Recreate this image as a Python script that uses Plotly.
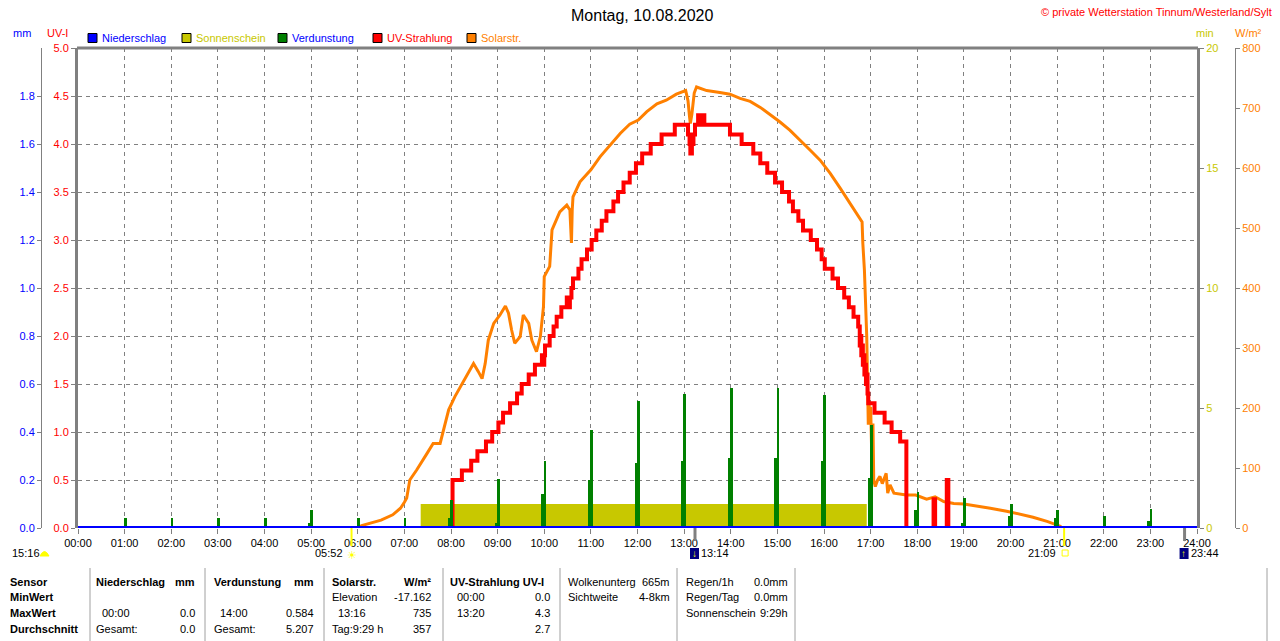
import plotly.graph_objects as go

W, H = 1280, 641


def px(x):
    return x / W


def py(y):
    return 1 - y / H


def hm(s):
    h, m = s.split(":")
    return int(h) + int(m) / 60.0


FONT = "Liberation Sans, Arial, sans-serif"
GRAY = "#808080"
RED = "#ff0000"
ORANGE = "#ff8000"
GREEN = "#008000"
BLUE = "#0000ff"
OLIVE = "#c8c800"

# ---------------- data ----------------
hours = list(range(25))
hour_labels = [f"{h:02d}:00" for h in hours]

uv_ticks = [0.0, 0.5, 1.0, 1.5, 2.0, 2.5, 3.0, 3.5, 4.0, 4.5, 5.0]
mm_ticks = [0.0, 0.2, 0.4, 0.6, 0.8, 1.0, 1.2, 1.4, 1.6, 1.8]
min_ticks = [0, 5, 10, 15, 20]
wm2_ticks = [0, 100, 200, 300, 400, 500, 600, 700, 800]

solar_times = ["00:00", "06:00", "06:05", "06:20", "06:30", "06:45", "06:55", "07:00", "07:03", "07:07",
               "07:16", "07:29", "07:37", "07:46", "07:52", "07:57", "08:05", "08:16", "08:22", "08:29",
               "08:35", "08:40", "08:44", "08:48", "08:55", "09:03", "09:10", "09:14", "09:18", "09:22",
               "09:29", "09:33", "09:40", "09:44", "09:50", "09:55", "09:59", "10:00", "10:07", "10:10",
               "10:20", "10:29", "10:33", "10:35", "10:36", "10:37", "10:46", "11:00", "11:12", "11:25",
               "11:38", "11:50", "12:01", "12:12", "12:25", "12:37", "12:50", "13:02", "13:05", "13:07",
               "13:08", "13:10", "13:13", "13:16", "13:29", "13:46", "13:59", "14:12", "14:25", "14:38",
               "14:50", "15:03", "15:16", "15:29", "15:42", "15:55", "16:08", "16:21", "16:34", "16:45",
               "16:49", "16:50", "16:52", "16:55", "16:56", "16:57", "16:58", "16:59", "17:00", "17:02",
               "17:03", "17:04", "17:06", "17:09", "17:12", "17:15", "17:20", "17:22", "17:25", "17:30",
               "17:46", "17:58", "18:12", "18:23", "18:34", "18:47", "19:00", "19:17", "19:34", "19:55",
               "20:12", "20:29", "20:47", "21:04", "21:06", "24:00"]
solar_values = [0, 0, 4, 9, 13, 22, 33, 43, 50, 80,
                97, 124, 141, 141, 169, 197, 219, 244, 258, 274,
                261, 249, 274, 313, 341, 355, 370, 358, 330, 308,
                319, 355, 341, 313, 294, 319, 369, 419, 436, 497,
                527, 538, 530, 475, 530, 552, 577, 597, 619, 638,
                658, 673, 680, 694, 707, 713, 723, 729, 712, 685,
                674, 690, 725, 735, 729, 726, 723, 716, 711, 701,
                690, 677, 663, 647, 630, 613, 591, 566, 541, 519,
                510, 474, 430, 319, 213, 172, 208, 174, 202, 91,
                174, 80, 69, 80, 86, 74, 91, 58, 72, 58,
                55, 55, 48, 52, 44, 41, 40, 37, 33, 28,
                23, 18, 11, 3, 0, 0]

uv_times = ["00:00", "08:02", "08:14", "08:26", "08:34", "08:45", "08:53", "09:01", "09:07", "09:16",
            "09:25", "09:31", "09:40", "09:48", "09:57", "09:59", "10:00", "10:01", "10:07", "10:12",
            "10:16", "10:22", "10:29", "10:32", "10:33", "10:35", "10:37", "10:44", "10:48", "10:55",
            "11:01", "11:07", "11:14", "11:20", "11:29", "11:35", "11:42", "11:50", "11:58", "12:06",
            "12:17", "12:31", "12:48", "13:05", "13:07", "13:08", "13:10", "13:12", "13:14", "13:18",
            "13:20", "13:22", "13:23", "13:25", "13:26", "13:29", "13:59", "14:14", "14:29", "14:38",
            "14:47", "14:57", "15:06", "15:15", "15:20", "15:27", "15:33", "15:43", "15:51", "15:57",
            "16:01", "16:11", "16:18", "16:26", "16:32", "16:38", "16:44", "16:46", "16:47", "16:48",
            "16:49", "16:50", "16:51", "16:52", "16:53", "16:54", "16:55", "16:56", "16:57", "17:05",
            "17:18", "17:27", "17:38", "17:46", "18:21", "18:23", "18:38", "18:40", "24:00"]
uv_values = [0.0, 0.5, 0.6, 0.7, 0.8, 0.9, 1.0, 1.1, 1.2, 1.3,
             1.4, 1.5, 1.6, 1.7, 1.8, 1.7, 1.8, 1.9, 2.0, 2.1,
             2.2, 2.3, 2.4, 2.3, 2.4, 2.5, 2.6, 2.7, 2.8, 2.9,
             3.0, 3.1, 3.2, 3.3, 3.4, 3.5, 3.6, 3.7, 3.8, 3.9,
             4.0, 4.1, 4.2, 4.1, 4.0, 3.9, 4.0, 4.1, 4.2, 4.3,
             4.2, 4.3, 4.2, 4.3, 4.2, 4.2, 4.1, 4.0, 3.9, 3.8,
             3.7, 3.6, 3.5, 3.4, 3.3, 3.2, 3.1, 3.0, 2.9, 2.8,
             2.7, 2.6, 2.5, 2.4, 2.3, 2.2, 2.1, 1.9, 2.0, 1.8,
             1.9, 1.7, 1.8, 1.6, 1.7, 1.5, 1.6, 1.4, 1.3, 1.2,
             1.1, 1.0, 0.9, 0.0, 0.3, 0.0, 0.5, 0.0, 0.0]

evap_hours = list(range(1, 24))
evap_main = [0.04, 0.04, 0.04, 0.04, 0.075, 0.04, 0.04, 0.115, 0.205, 0.28,
             0.41, 0.53, 0.56, 0.584, 0.583, 0.555, 0.43, 0.15, 0.125, 0.10,
             0.075, 0.05, 0.08]
evap_sub = [0.01, 0.01, 0.01, 0.01, 0.02, 0.01, 0.01, 0.04, 0.02, 0.14,
            0.20, 0.27, 0.28, 0.29, 0.29, 0.28, 0.21, 0.075, 0.02, 0.05,
            0.04, 0.0, 0.03]

sun_times = ["07:21", "16:55"]
sun_minutes = [1.0, 1.0]

rain_times = ["00:00", "24:00"]
rain_values = [0.0, 0.0]

sunrise, sunset = "05:52", "21:09"
day_length = "15:16"
moon_events = [("13:14", "↓"), ("23:44", "↑")]

table_rows_y = [582, 597, 613, 629]

# axis ids chosen so overlay drawing order is: sunshine < solar < UV < evaporation/rain
Y_MIN, Y_WM2, Y_UV, Y_MM = "y", "y2", "y3", "y4"

# ---------------- traces ----------------
fig = go.Figure()

st = [hm(t) for t in sun_times]
fig.add_trace(go.Scatter(x=[st[0], st[0], st[1], st[1]], y=[0, sun_minutes[0], sun_minutes[1], 0],
                         fill="toself", fillcolor=OLIVE, mode="lines", line=dict(width=0, color=OLIVE),
                         yaxis=Y_MIN, hoverinfo="skip"))

fig.add_trace(go.Scatter(x=[hm(t) for t in solar_times], y=solar_values, mode="lines",
                         line=dict(color=ORANGE, width=3), yaxis=Y_WM2, hoverinfo="skip"))

fig.add_trace(go.Scatter(x=[hm(t) for t in uv_times], y=uv_values, mode="lines",
                         line=dict(color=RED, width=4, shape="hv"), yaxis=Y_UV, hoverinfo="skip"))

fig.add_trace(go.Bar(x=[h - 0.03 for h in evap_hours], y=evap_sub, width=0.065,
                     marker=dict(color=GREEN, line=dict(width=0)), yaxis=Y_MM, hoverinfo="skip"))
fig.add_trace(go.Bar(x=[h + 0.015 for h in evap_hours], y=evap_main, width=0.06,
                     marker=dict(color=GREEN, line=dict(width=0)), yaxis=Y_MM, hoverinfo="skip"))

fig.add_trace(go.Scatter(x=[hm(t) for t in rain_times], y=rain_values, mode="lines",
                         line=dict(color=BLUE, width=4), yaxis=Y_MM, hoverinfo="skip"))

# ---------------- layout ----------------
ann = []
shapes = []


def txt(x, y, s, color="black", size=11, anchor="left", bold=False, xref="paper"):
    ann.append(dict(x=x if xref != "paper" else px(x), y=py(y), xref=xref, yref="paper",
                    text=f"<b>{s}</b>" if bold else s, showarrow=False, xanchor=anchor,
                    yanchor="middle", font=dict(family=FONT, size=size, color=color)))


# title & copyright
txt(642, 15, "Montag, 10.08.2020", size=16, anchor="center")
txt(1274, 12, "© private Wetterstation Tinnum/Westerland/Sylt", color=RED, size=11, anchor="right")

# axis headers
txt(22, 33, "mm", color=BLUE, anchor="center")
txt(57, 33, "UV-I", color=RED, anchor="center")
txt(1205, 33, "min", color=OLIVE, anchor="center")
txt(1248, 33, "W/m²", color=ORANGE, anchor="center")

# legend
legend_items = [("Niederschlag", BLUE, BLUE, 88), ("Sonnenschein", OLIVE, OLIVE, 182),
                ("Verdunstung", GREEN, BLUE, 278), ("UV-Strahlung", RED, RED, 373),
                ("Solarstr.", ORANGE, ORANGE, 467)]
for name, fc, tc, x0 in legend_items:
    shapes.append(dict(type="rect", xref="paper", yref="paper", x0=px(x0), x1=px(x0 + 9),
                       y0=py(42.5), y1=py(33.5), fillcolor=fc, line=dict(color="black", width=1)))
    txt(x0 + 12, 38, name, color=tc)

# top border
shapes.append(dict(type="line", xref="paper", yref="paper", x0=px(77), x1=px(1198), y0=py(48), y1=py(48),
                   line=dict(color=GRAY, width=3)))

# sun / moon markers below the axis
for t in (sunrise, sunset):
    shapes.append(dict(type="line", xref="x", yref="paper", x0=hm(t), x1=hm(t), y0=py(528), y1=py(546),
                       line=dict(color="#ffff00", width=2)))
txt(hm(sunrise) - 0.13, 553, sunrise, anchor="right", xref="x")
txt(hm(sunrise) + 0.02, 555, "☀", color="#ffff00", size=11, anchor="center", xref="x")
txt(hm(sunset) - 0.13, 553, sunset, anchor="right", xref="x")
shapes.append(dict(type="rect", xref="x", yref="paper", xsizemode="pixel", ysizemode="pixel",
                   xanchor=hm(sunset), yanchor=py(553), x0=-2, x1=4, y0=-3, y1=3,
                   line=dict(color="#ffff00", width=1), fillcolor="white"))
for t, arrow in moon_events:
    shapes.append(dict(type="line", xref="x", yref="paper", x0=hm(t), x1=hm(t), y0=py(528), y1=py(541),
                       line=dict(color=GRAY, width=3)))
    shapes.append(dict(type="rect", xref="x", yref="paper", xsizemode="pixel", ysizemode="pixel",
                       xanchor=hm(t), yanchor=py(553), x0=-5, x1=4, y0=-6, y1=5,
                       fillcolor="#000080", line=dict(width=0)))
    txt(hm(t) - 0.02, 553, arrow, color="#ffff00", size=10, anchor="center", bold=True, xref="x")
    txt(hm(t) + 0.09, 553, t, anchor="left", xref="x")
txt(10, 553, day_length, anchor="left")
shapes.append(dict(type="path", xref="paper", yref="paper",
                   path=f"M {px(40)},{py(556)} Q {px(44.5)},{py(547)} {px(49)},{py(556)} Z",
                   fillcolor="#ffff00", line=dict(color="#ffff00", width=1)))

# bottom table
for sx in [90, 205, 324, 443, 560, 677, 795, 1267]:
    shapes.append(dict(type="line", xref="paper", yref="paper", x0=px(sx), x1=px(sx), y0=py(568), y1=py(641),
                       line=dict(color="#a0a0a0", width=1)))
r1, r2, r3, r4 = table_rows_y
for label, yy in zip(["Sensor", "MinWert", "MaxWert", "Durchschnitt"], table_rows_y):
    txt(8, yy, label, bold=True)
txt(94, r1, "Niederschlag", bold=True)
txt(197, r1, "mm", bold=True, anchor="right")
txt(212, r1, "Verdunstung", bold=True)
txt(316, r1, "mm", bold=True, anchor="right")
txt(330, r1, "Solarstr.", bold=True)
txt(433, r1, "W/m²", bold=True, anchor="right")
txt(448, r1, "UV-Strahlung UV-I", bold=True)
txt(330, r2, "Elevation")
txt(433, r2, "-17.162", anchor="right")
txt(455, r2, "00:00")
txt(552, r2, "0.0", anchor="right")
txt(100, r3, "00:00")
txt(197, r3, "0.0", anchor="right")
txt(218, r3, "14:00")
txt(316, r3, "0.584", anchor="right")
txt(336, r3, "13:16")
txt(433, r3, "735", anchor="right")
txt(455, r3, "13:20")
txt(552, r3, "4.3", anchor="right")
txt(94, r4, "Gesamt:")
txt(197, r4, "0.0", anchor="right")
txt(212, r4, "Gesamt:")
txt(316, r4, "5.207", anchor="right")
txt(330, r4, "Tag:9:29 h")
txt(433, r4, "357", anchor="right")
txt(552, r4, "2.7", anchor="right")
txt(566, r1, "Wolkenunterg")
txt(672, r1, "665m", anchor="right")
txt(566, r2, "Sichtweite")
txt(672, r2, "4-8km", anchor="right")
txt(684, r1, "Regen/1h")
txt(790, r1, "0.0mm", anchor="right")
txt(684, r2, "Regen/Tag")
txt(790, r2, "0.0mm", anchor="right")
txt(684, r3, "Sonnenschein")
txt(790, r3, "9:29h", anchor="right")

ydom = [py(528), py(48)]
common = dict(automargin=False, fixedrange=True, zeroline=False)
DASH = "4px,4px"

fig.update_layout(
    width=W, height=H, autosize=False,
    margin=dict(l=0, r=0, t=0, b=0, pad=0, autoexpand=False),
    paper_bgcolor="white", plot_bgcolor="white",
    showlegend=False, barmode="overlay", bargap=0,
    font=dict(family=FONT, size=11),
    annotations=ann, shapes=shapes,
    xaxis=dict(domain=[px(78), px(1197)], range=[0, 24], tickvals=hours, ticktext=hour_labels,
               ticks="outside", ticklen=5, tickcolor=GRAY, tickfont=dict(family=FONT, size=11, color="black"),
               showgrid=True, gridcolor=GRAY, griddash=DASH, gridwidth=1, showline=False, **common),
    # minutes of sunshine (base axis, right side at plot edge)
    yaxis=dict(domain=ydom, anchor="x", side="right", range=[0, 20], tickvals=min_ticks,
               tickfont=dict(family=FONT, size=11, color=OLIVE), ticks="outside", ticklen=4, tickcolor=GRAY,
               showline=True, linecolor=GRAY, linewidth=3, showgrid=False, **common),
    # W/m2 (free, far right)
    yaxis2=dict(domain=ydom, overlaying="y", anchor="free", position=px(1235), side="right", range=[0, 800],
                tickvals=wm2_ticks, tickfont=dict(family=FONT, size=11, color=ORANGE), ticks="outside",
                ticklen=4, tickcolor=GRAY, showline=True, linecolor=GRAY, linewidth=1, showgrid=False,
                **common),
    # UV index (left plot edge, carries the horizontal grid)
    yaxis3=dict(domain=ydom, overlaying="y", anchor="x", side="left", range=[0, 5], tickvals=uv_ticks,
                ticktext=[f"{v:.1f}" for v in uv_ticks],
                tickfont=dict(family=FONT, size=11, color=RED), ticks="outside", ticklen=4, tickcolor=GRAY,
                showline=True, linecolor=GRAY, linewidth=3, showgrid=True, gridcolor=GRAY, griddash=DASH,
                gridwidth=1, **common),
    # mm (free, far left)
    yaxis4=dict(domain=ydom, overlaying="y", anchor="free", position=px(41), side="left", range=[0, 2],
                tickvals=mm_ticks, ticktext=[f"{v:.1f}" for v in mm_ticks],
                tickfont=dict(family=FONT, size=11, color=BLUE), ticks="outside", ticklen=4, tickcolor=GRAY,
                showline=True, linecolor=GRAY, linewidth=1, showgrid=False, **common),
)

fig.write_html("out.html", config={"displayModeBar": False},
               post_script="document.body.style.margin='0px';document.body.style.overflow='hidden';")
